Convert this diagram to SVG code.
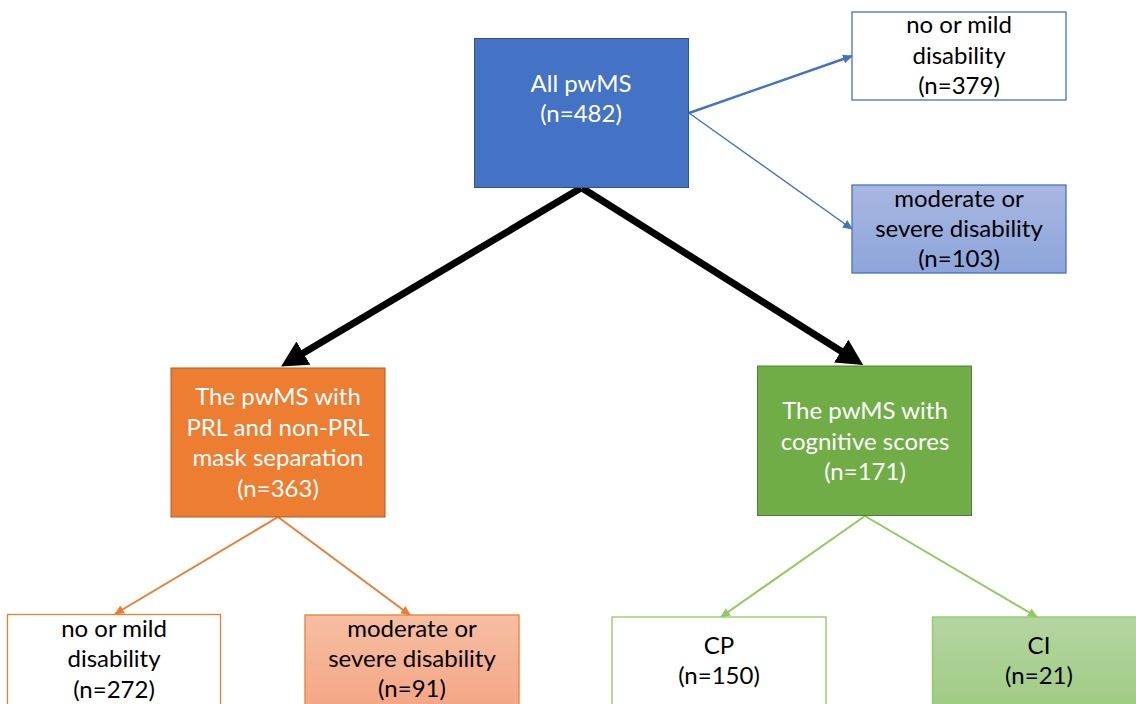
<svg xmlns="http://www.w3.org/2000/svg" width="1136" height="704" viewBox="0 0 1136 704">
<defs>
<linearGradient id="gBlue" x1="0" y1="0" x2="0" y2="1"><stop offset="0" stop-color="#A8B7E1"/><stop offset="1" stop-color="#8DA5DB"/></linearGradient>
<linearGradient id="gOrange" x1="0" y1="0" x2="0" y2="1"><stop offset="0" stop-color="#F6BEA2"/><stop offset="1" stop-color="#F3A27F"/></linearGradient>
<linearGradient id="gGreen" x1="0" y1="0" x2="0" y2="1"><stop offset="0" stop-color="#B4D6A1"/><stop offset="1" stop-color="#9BC97D"/></linearGradient>
<marker id="mBlack" markerUnits="userSpaceOnUse" viewBox="0 0 26 27" markerWidth="26" markerHeight="27" refX="1" refY="13.5" orient="auto"><path d="M0,0 L26,13.5 L0,27 z" fill="#000"/></marker>
<marker id="mBlue" markerUnits="userSpaceOnUse" viewBox="0 0 10 9" markerWidth="10" markerHeight="9" refX="9" refY="4.5" orient="auto"><path d="M0,0 L10,4.5 L0,9 z" fill="#4472C4"/></marker>
<marker id="mOrange" markerUnits="userSpaceOnUse" viewBox="0 0 10 9" markerWidth="10" markerHeight="9" refX="9" refY="4.5" orient="auto"><path d="M0,0 L10,4.5 L0,9 z" fill="#ED7D31"/></marker>
<marker id="mGreen" markerUnits="userSpaceOnUse" viewBox="0 0 10 9" markerWidth="10" markerHeight="9" refX="9" refY="4.5" orient="auto"><path d="M0,0 L10,4.5 L0,9 z" fill="#8DCB5B"/></marker>
</defs>
<style>
text{font-family:Lato,"Open Sans","Liberation Sans",sans-serif;font-size:24px;text-anchor:middle;fill:#000}
.w{fill:#fff}
</style>
<rect width="1136" height="704" fill="#fff"/>
<g id="connectors">
<line x1="581" y1="188" x2="302.5" y2="353.6" stroke="#000" stroke-width="7" marker-end="url(#mBlack)"/>
<line x1="582" y1="188" x2="842" y2="351.7" stroke="#000" stroke-width="7" marker-end="url(#mBlack)"/>
<line x1="689" y1="113" x2="852" y2="56" stroke="#4472C4" stroke-width="2.5" marker-end="url(#mBlue)"/>
<line x1="689" y1="113" x2="852" y2="229" stroke="#4472C4" stroke-width="1.5" marker-end="url(#mBlue)"/>
<line x1="278" y1="517" x2="115" y2="614" stroke="#ED7D31" stroke-width="2" marker-end="url(#mOrange)"/>
<line x1="278" y1="517" x2="410" y2="615" stroke="#ED7D31" stroke-width="2" marker-end="url(#mOrange)"/>
<line x1="865" y1="516" x2="721" y2="617" stroke="#8DCB5B" stroke-width="2" marker-end="url(#mGreen)"/>
<line x1="865" y1="516" x2="1037" y2="617" stroke="#8DCB5B" stroke-width="2" marker-end="url(#mGreen)"/>
</g>
<g id="all">
<rect x="474.5" y="38.5" width="214" height="149" fill="#4472C4" stroke="#2F528F"/>
<text class="w" x="581" y="92">All pwMS</text>
<text class="w" x="581" y="122">(n=482)</text>
</g>
<g id="top-mild">
<rect x="852" y="12" width="214" height="88" fill="#fff" stroke="#4472C4" stroke-width="1.3"/>
<text x="959" y="33">no or mild</text>
<text x="959" y="63.5">disability</text>
<text x="959" y="94">(n=379)</text>
</g>
<g id="top-severe">
<rect x="852" y="185" width="214" height="88" fill="url(#gBlue)" stroke="#4472C4" stroke-width="1.3"/>
<text x="959" y="207">moderate or</text>
<text x="959" y="237">severe disability</text>
<text x="959" y="267">(n=103)</text>
</g>
<g id="prl">
<rect x="171" y="368" width="214" height="149" fill="#ED7D31" stroke="#AE5A21"/>
<text class="w" x="278" y="405">The pwMS with</text>
<text class="w" x="278" y="435.5">PRL and non-PRL</text>
<text class="w" x="278" y="466">mask separation</text>
<text class="w" x="278" y="496.5">(n=363)</text>
</g>
<g id="cog">
<rect x="757.5" y="366" width="214" height="149.5" fill="#70AD47" stroke="#507E32"/>
<text class="w" x="865" y="419">The pwMS with</text>
<text class="w" x="865" y="449.5">cognitive scores</text>
<text class="w" x="865" y="480">(n=171)</text>
</g>
<g id="prl-mild">
<rect x="7.5" y="614.5" width="213" height="110" fill="#fff" stroke="#ED7D31" stroke-width="1.3"/>
<text x="114" y="637">no or mild</text>
<text x="114" y="667">disability</text>
<text x="114" y="698">(n=272)</text>
</g>
<g id="prl-severe">
<rect x="305" y="615" width="214" height="110" fill="url(#gOrange)" stroke="#ED7D31" stroke-width="1.3"/>
<text x="412" y="637">moderate or</text>
<text x="412" y="667">severe disability</text>
<text x="412" y="697">(n=91)</text>
</g>
<g id="cp">
<rect x="612" y="617" width="214" height="110" fill="#fff" stroke="#8DCB5B" stroke-width="1.3"/>
<text x="719" y="654">CP</text>
<text x="719" y="684">(n=150)</text>
</g>
<g id="ci">
<rect x="932.5" y="617" width="214" height="110" fill="url(#gGreen)" stroke="#8DCB5B" stroke-width="1.3"/>
<text x="1039" y="654">CI</text>
<text x="1039" y="684">(n=21)</text>
</g>
</svg>
